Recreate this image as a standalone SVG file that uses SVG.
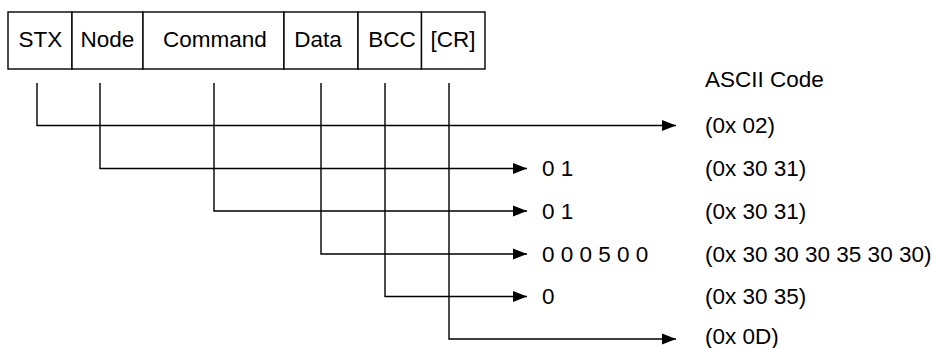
<svg xmlns="http://www.w3.org/2000/svg" width="932" height="348" viewBox="0 0 932 348">
<style>
text{font-family:"Liberation Sans",Arial,sans-serif;font-size:22.5px;fill:#000}
.c{text-anchor:middle}
.box{fill:#fff;stroke:#000;stroke-width:1.4}
.ln{fill:none;stroke:#000;stroke-width:1.4}
</style>
<defs>
<marker id="ah" markerUnits="userSpaceOnUse" markerWidth="15" markerHeight="12" refX="14" refY="5.5" orient="auto" viewBox="0 0 15 11">
<path d="M0,0 L14,5.5 L0,11 Z" fill="#000"/>
</marker>
</defs>
<rect width="932" height="348" fill="#fff"/>
<g id="frame">
<g id="stx"><rect class="box" x="8" y="12" width="64" height="57"/><text class="c" x="40.5" y="47">STX</text></g>
<g id="node"><rect class="box" x="72" y="12" width="71" height="57"/><text class="c" x="107.5" y="47">Node</text></g>
<g id="command"><rect class="box" x="143" y="12" width="141" height="57"/><text class="c" x="215" y="47">Command</text></g>
<g id="data"><rect class="box" x="284" y="12" width="74" height="57"/><text class="c" x="318" y="47">Data</text></g>
<g id="bcc"><rect class="box" x="358" y="12" width="63.5" height="57"/><text class="c" x="392" y="47">BCC</text></g>
<g id="cr"><rect class="box" x="421.5" y="12" width="63.5" height="57"/><text class="c" x="453" y="47">[CR]</text></g>
</g>
<g id="connectors">
<path class="ln" d="M37,83 V125.5 H676" marker-end="url(#ah)"/>
<path class="ln" d="M100,83 V168.5 H527" marker-end="url(#ah)"/>
<path class="ln" d="M214,83 V211 H527" marker-end="url(#ah)"/>
<path class="ln" d="M321,83 V254 H527" marker-end="url(#ah)"/>
<path class="ln" d="M385,83 V296.5 H527" marker-end="url(#ah)"/>
<path class="ln" d="M449,83 V339 H676" marker-end="url(#ah)"/>
</g>
<g id="values">
<text x="542" y="176">0 1</text>
<text x="542" y="218.5">0 1</text>
<text x="542" y="261.5">0 0 0 5 0 0</text>
<text x="542" y="304">0</text>
</g>
<g id="ascii">
<text x="705" y="87">ASCII Code</text>
<text x="705" y="133">(0x 02)</text>
<text x="705" y="176">(0x 30 31)</text>
<text x="705" y="218.5">(0x 30 31)</text>
<text x="705" y="261.5">(0x 30 30 30 35 30 30)</text>
<text x="705" y="304">(0x 30 35)</text>
<text x="705" y="343.5">(0x 0D)</text>
</g>
</svg>
